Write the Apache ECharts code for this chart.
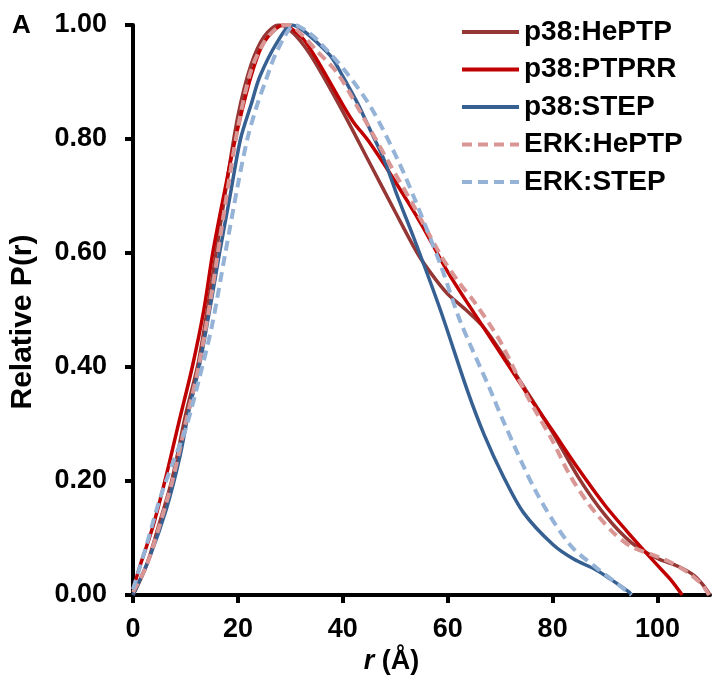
<!DOCTYPE html>
<html><head><meta charset="utf-8">
<script src="https://cdn.jsdelivr.net/npm/echarts@6/dist/echarts.min.js"></script>
<style>html,body{margin:0;padding:0;background:#fff}#c{width:716px;height:680px}</style>
</head><body><div id="c"></div>
<script>
var xTicks = [0, 20, 40, 60, 80, 100];
var seriesNames = ['p38:HePTP', 'p38:PTPRR', 'p38:STEP', 'ERK:HePTP', 'ERK:STEP'];

var heptpR = [0, 2.5, 5, 7.5, 10, 12.5, 15, 17.5, 20, 22.5, 25, 27.8, 30, 32.5, 35, 40, 45, 50, 54.2, 57, 60, 63.5, 67, 71, 75, 80, 85, 90, 95, 100, 104, 107, 109, 110];
var heptpY = [0, 0.05, 0.125, 0.205, 0.315, 0.41, 0.55, 0.7, 0.84, 0.93, 0.98, 1.0, 0.99, 0.965, 0.93, 0.848, 0.76, 0.672, 0.6, 0.562, 0.528, 0.5, 0.468, 0.415, 0.358, 0.285, 0.205, 0.14, 0.092, 0.064, 0.05, 0.034, 0.014, 0];

var ptprrR = [0, 1.3, 3.8, 6.3, 8.8, 11.3, 13.5, 15.2, 17.5, 19.5, 22.5, 25, 28.7, 30, 32.5, 35, 40, 42, 45, 50, 55, 60, 65, 70, 75, 80, 85, 90, 95, 100, 102.5, 104.7];
var ptprrY = [0.01, 0.05, 0.12, 0.208, 0.305, 0.4, 0.5, 0.6, 0.71, 0.8, 0.91, 0.97, 1.0, 0.995, 0.975, 0.94, 0.86, 0.83, 0.795, 0.725, 0.65, 0.567, 0.495, 0.425, 0.355, 0.288, 0.22, 0.157, 0.103, 0.052, 0.027, 0];

var stepR = [0, 3.2, 6.3, 8.8, 10.7, 12.6, 15, 16.5, 18.5, 20.5, 22.5, 24.2, 27.5, 30.3, 32.5, 35, 37.8, 40, 42.8, 45, 47.9, 50.4, 53.6, 58.6, 63.7, 67, 70.6, 74.4, 80.1, 84, 88.3, 91, 94.6, 95];
var stepY = [0, 0.067, 0.149, 0.237, 0.325, 0.4, 0.52, 0.6, 0.7, 0.8, 0.86, 0.91, 0.97, 1.0, 0.99, 0.97, 0.944, 0.91, 0.863, 0.82, 0.763, 0.7, 0.625, 0.5, 0.36, 0.28, 0.208, 0.145, 0.088, 0.063, 0.044, 0.028, 0.005, 0];

var erkHeptpR = [0, 2.5, 5, 7.5, 10, 12.5, 15, 17.5, 20, 22.5, 25, 27.5, 29.6, 32.5, 35, 39, 43.5, 48.5, 53.6, 58.6, 62, 65, 70, 75.1, 80, 83.3, 87, 91.5, 95, 100.3, 103, 106, 108.5, 109.8];
var erkHeptpY = [0.005, 0.05, 0.12, 0.2, 0.3, 0.4, 0.53, 0.68, 0.82, 0.92, 0.97, 0.995, 1.0, 0.98, 0.955, 0.915, 0.845, 0.763, 0.681, 0.597, 0.55, 0.515, 0.445, 0.35, 0.27, 0.21, 0.158, 0.11, 0.085, 0.066, 0.055, 0.038, 0.018, 0];

var erkStepR = [0, 2.5, 5, 7.5, 10, 12.5, 15, 17.6, 20, 21.8, 23.5, 25.2, 27.5, 30.9, 33, 35, 40.3, 45.4, 50.4, 53.6, 58.6, 62.4, 68.1, 70.6, 76.9, 83.3, 88.3, 92, 95];
var erkStepY = [0.01, 0.085, 0.165, 0.23, 0.29, 0.375, 0.47, 0.6, 0.72, 0.8, 0.855, 0.9, 0.955, 1.0, 0.99, 0.975, 0.921, 0.855, 0.765, 0.697, 0.58, 0.48, 0.36, 0.305, 0.18, 0.088, 0.048, 0.022, 0];

function pairs(r, y) { return r.map(function (v, i) { return [v, y[i]]; }); }

var FONT = '"Liberation Sans", Arial, sans-serif';
var styles = [
  { color: '#953735', width: 3.5, type: 'solid' },
  { color: '#C00000', width: 3.5, type: 'solid' },
  { color: '#376092', width: 3.5, type: 'solid' },
  { color: '#D99694', width: 4, type: [10, 6] },
  { color: '#95B3D7', width: 4, type: [10, 6] }
];
var datasets = [pairs(heptpR, heptpY), pairs(ptprrR, ptprrY), pairs(stepR, stepY), pairs(erkHeptpR, erkHeptpY), pairs(erkStepR, erkStepY)];

var chart = echarts.init(document.getElementById('c'), null, { renderer: 'canvas' });
chart.setOption({
  animation: false,
  backgroundColor: '#fff',
  grid: { left: 127, right: 6, top: 25, bottom: 85, containLabel: false },
  title: { text: 'A', left: 7, top: 8, textStyle: { fontFamily: FONT, fontWeight: 'bold', fontSize: 26, color: '#000' } },
  legend: {
    orient: 'vertical', left: 460, top: 18, padding: 0,
    itemWidth: 57, itemHeight: 14, itemGap: 9.5,
    itemStyle: { color: 'rgba(0,0,0,0)', borderColor: 'rgba(0,0,0,0)', borderWidth: 0, opacity: 0 },
    lineStyle: { width: 4 },
    textStyle: { fontFamily: FONT, fontWeight: 'bold', fontSize: 28, color: '#000', lineHeight: 28 },
    data: seriesNames
  },
  xAxis: {
    type: 'value', min: 0, max: 110, interval: 20,
    name: '{i|r} (Å)', nameLocation: 'middle', nameGap: 53,
    nameTextStyle: { fontFamily: FONT, fontWeight: 'bold', fontSize: 27, color: '#000', padding: [0, 60, 0, 0],
      rich: { i: { fontFamily: FONT, fontWeight: 'bold', fontStyle: 'italic', fontSize: 27, color: '#000' } } },
    axisLine: { onZero: false, lineStyle: { color: '#000', width: 4 } },
    axisTick: { show: true, length: 8, inside: false, lineStyle: { color: '#000', width: 4 }, customValues: xTicks },
    axisLabel: { customValues: xTicks, margin: 21, fontFamily: FONT, fontWeight: 'bold', fontSize: 27, color: '#000' },
    splitLine: { show: false }
  },
  yAxis: {
    type: 'value', min: 0, max: 1, interval: 0.2,
    name: 'Relative P(r)', nameLocation: 'middle', nameGap: 95,
    nameTextStyle: { fontFamily: FONT, fontWeight: 'bold', fontSize: 30, color: '#000', padding: [0, 24, 0, 0] },
    axisLine: { show: true, lineStyle: { color: '#000', width: 4 } },
    axisTick: { show: true, length: 8, lineStyle: { color: '#000', width: 4 } },
    axisLabel: { margin: 26, fontFamily: FONT, fontWeight: 'bold', fontSize: 27, color: '#000',
      formatter: function (v) { return v.toFixed(2); } },
    splitLine: { show: false }
  },
  series: seriesNames.map(function (n, i) {
    return {
      name: n, type: 'line', data: datasets[i], smooth: 0.3, symbol: 'none',
      lineStyle: { color: styles[i].color, width: styles[i].width, type: styles[i].type },
      itemStyle: { color: styles[i].color }, z: 2 + i
    };
  })
});
</script></body></html>
